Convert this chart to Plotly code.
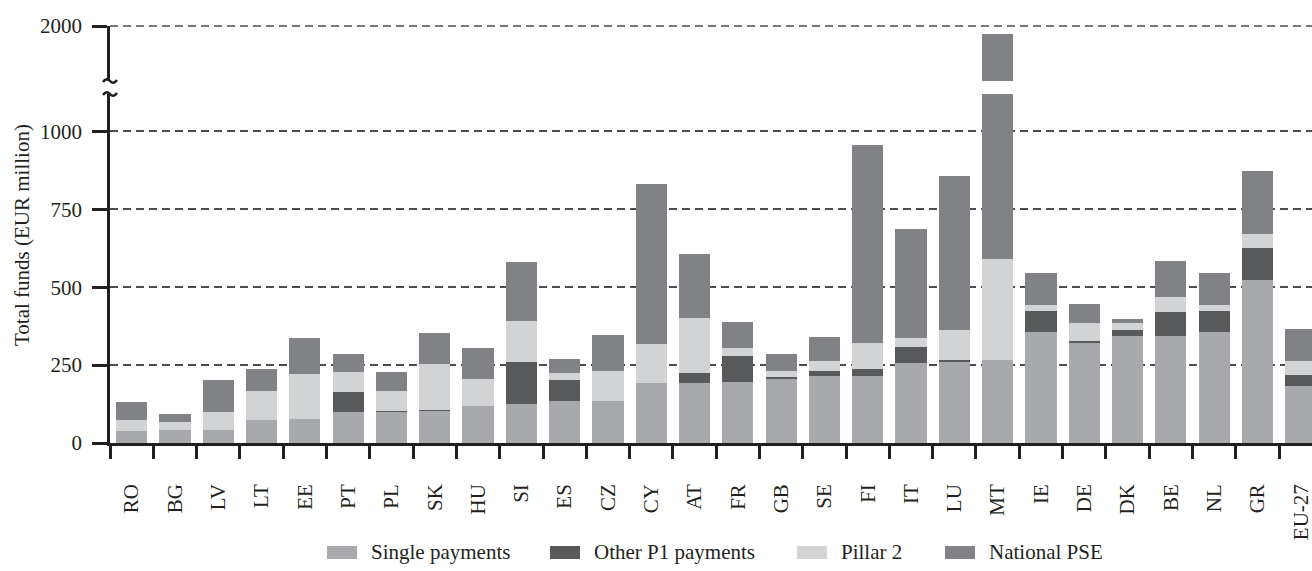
import plotly.graph_objects as go

countries = ["RO", "BG", "LV", "LT", "EE", "PT", "PL", "SK", "HU", "SI", "ES", "CZ", "CY", "AT",
             "FR", "GB", "SE", "FI", "IT", "LU", "MT", "IE", "DE", "DK", "BE", "NL", "GR", "EU-27"]
single_payments = [38, 42, 42, 74, 77, 100, 100, 104, 119, 125, 135, 135, 193, 193,
                   196, 205, 215, 215, 257, 263, 266, 356, 321, 343, 343, 356, 523, 183]
other_p1 = [0, 0, 0, 0, 0, 64, 3, 3, 0, 135, 67, 0, 0, 32,
            83, 7, 16, 22, 51, 3, 0, 68, 6, 20, 77, 68, 103, 35]
pillar2 = [36, 25, 58, 93, 144, 64, 64, 146, 86, 131, 23, 96, 125, 176,
           26, 19, 32, 84, 29, 97, 324, 19, 58, 22, 48, 19, 45, 45]
national_pse = [58, 26, 103, 71, 116, 58, 61, 100, 100, 190, 45, 116, 513, 206,
                83, 55, 77, 635, 350, 494, 1384, 103, 61, 13, 116, 103, 202, 103]

series_names = ["Single payments", "Other P1 payments", "Pillar 2", "National PSE"]
series_values = [single_payments, other_p1, pillar2, national_pse]
colors = ["#a7a9ac", "#58595b", "#d1d3d4", "#808285"]

lower_ticks = [0, 250, 500, 750, 1000]
upper_ticks = [2000]

FONT = "Liberation Serif, Times New Roman, serif"
INK = "#231f20"
GRID = "#4d4d4f"
FS = 21

fig = go.Figure()
for name, vals, col in zip(series_names, series_values, colors):
    for yax in ["y", "y2"]:
        fig.add_trace(go.Bar(x=countries, y=vals, name=name, marker=dict(color=col, line=dict(width=0)),
                             yaxis=yax, xaxis="x", showlegend=False))

# pixel geometry helpers
W, H = 1312, 571
L, R, T, B = 110, 0, 26, 128
plot_h = H - T - B
PX_PER_UNIT = 0.3116
def py(p):  # pixel y -> paper
    return (H - B - p) / plot_h
def px(p):  # pixel x -> paper
    return (p - L) / (W - L - R)

LOW_TOP, UP_BOT = 94, 81

axis_common = dict(ticks="outside", ticklen=15, tickwidth=2.5, tickcolor=INK, showline=True,
                   linewidth=2.5, linecolor=INK, showgrid=True, gridcolor=GRID, gridwidth=1.6,
                   griddash="8px,5px", zeroline=False, anchor="x", ticklabelstandoff=6,
                   tickfont=dict(family=FONT, size=FS, color=INK))

fig.update_layout(
    width=W, height=H,
    margin=dict(l=L, r=R, t=T, b=B, pad=0),
    barmode="stack", bargap=0.28,
    plot_bgcolor="white", paper_bgcolor="white",
    font=dict(family=FONT, size=FS, color=INK),
    xaxis=dict(type="category", range=[-0.5, 27.26], tickson="boundaries", ticks="outside",
               ticklen=13, tickwidth=2.5, tickcolor=INK, showline=True, linewidth=2.5, linecolor=INK,
               tickangle=-90, showgrid=False, anchor="y", ticklabelstandoff=30,
               tickfont=dict(family=FONT, size=FS, color=INK)),
    yaxis=dict(domain=[0, py(LOW_TOP)], range=[0, (H - B - LOW_TOP) / PX_PER_UNIT], tickvals=lower_ticks,
               **axis_common),
    yaxis2=dict(domain=[py(UP_BOT), 1], range=[2000 - (UP_BOT - T) / PX_PER_UNIT, 2000], tickvals=upper_ticks,
                **axis_common),
)

# gridline at 2000 (top edge of the upper axis segment = paper 1)
fig.add_shape(type="line", xref="paper", yref="paper", x0=0, x1=1, y0=1, y1=1,
              line=dict(color=GRID, width=1.6, dash="8px,5px"))

# axis break tildes
for yp in [UP_BOT, LOW_TOP]:
    fig.add_shape(type="path", xref="paper", yref="paper", xsizemode="pixel", ysizemode="pixel",
                  xanchor=0, yanchor=py(yp), path="M-7,-1 Q-3.5,4 0,0 Q3.5,-4 7,1",
                  line=dict(color=INK, width=2.5))

# y axis title
fig.add_annotation(text="Total funds (EUR million)", xref="paper", yref="paper",
                   x=px(22), y=py(235), textangle=-90, showarrow=False,
                   font=dict(family=FONT, size=FS, color=INK), xanchor="center", yanchor="middle")

# custom legend
legend_x = [327, 550, 797, 945]
for name, col, lx in zip(series_names, colors, legend_x):
    fig.add_shape(type="rect", xref="paper", yref="paper", x0=px(lx), x1=px(lx + 30),
                  y0=py(559), y1=py(546), fillcolor=col, line=dict(width=0))
    fig.add_annotation(text=name, xref="paper", yref="paper", x=px(lx + 42), y=py(552),
                       xanchor="left", yanchor="middle", showarrow=False,
                       font=dict(family=FONT, size=FS, color=INK))

fig.write_html("out.html", config={"displayModeBar": False},
               post_script="document.body.style.margin='0px';document.body.style.overflow='hidden';")
